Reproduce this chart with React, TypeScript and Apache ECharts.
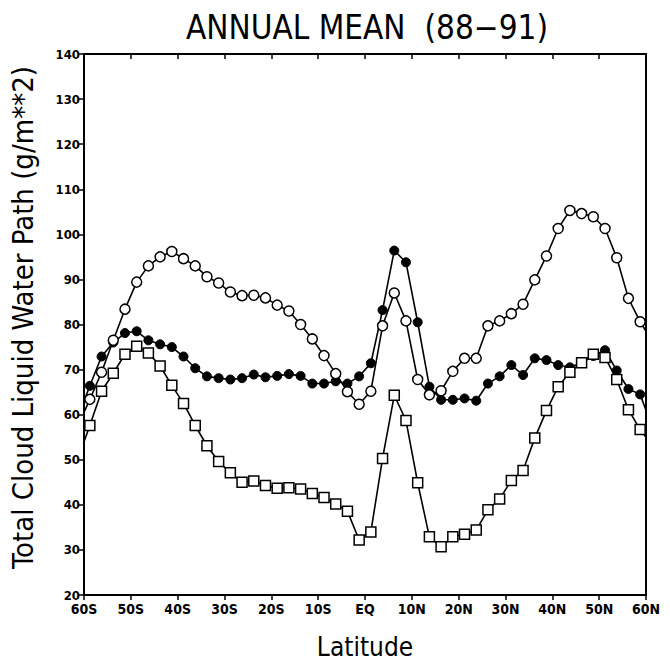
import React, { useEffect, useRef } from "react";
import * as echarts from "echarts";

const latitudes = [
  -58.75, -56.25, -53.75, -51.25, -48.75, -46.25, -43.75, -41.25, -38.75, -36.25,
  -33.75, -31.25, -28.75, -26.25, -23.75, -21.25, -18.75, -16.25, -13.75, -11.25,
  -8.75, -6.25, -3.75, -1.25, 1.25, 3.75, 6.25, 8.75, 11.25, 13.75,
  16.25, 18.75, 21.25, 23.75, 26.25, 28.75, 31.25, 33.75, 36.25, 38.75,
  41.25, 43.75, 46.25, 48.75, 51.25, 53.75, 56.25, 58.75,
];

const openCircles = [
  63.4, 69.4, 76.5, 83.4, 89.4, 93.0, 95.0, 96.2, 94.6, 93.0,
  90.6, 89.2, 87.2, 86.4, 86.5, 85.9, 84.3, 83.0, 80.0, 76.8,
  73.1, 69.1, 65.1, 62.3, 65.2, 79.7, 87.0, 80.8, 67.8, 64.4,
  65.3, 69.6, 72.5, 72.5, 79.7, 80.8, 82.4, 84.5, 89.9, 95.2,
  101.3, 105.3, 104.6, 103.9, 101.3, 94.8, 85.8, 80.6,
];

const filledCircles = [
  66.4, 72.9, 76.0, 78.1, 78.5, 76.5, 75.6, 75.0, 72.9, 70.3,
  68.5, 68.1, 67.8, 68.1, 68.9, 68.3, 68.6, 69.0, 68.6, 66.9,
  66.9, 67.4, 66.9, 68.5, 71.4, 83.2, 96.4, 93.8, 80.5, 66.2,
  63.3, 63.3, 63.6, 63.1, 66.9, 68.5, 71.0, 68.8, 72.5, 72.1,
  71.0, 70.5, 71.5, 73.0, 74.3, 69.8, 65.7, 64.5,
];

const openSquares = [
  57.6, 65.2, 69.2, 73.4, 75.2, 73.7, 70.8, 66.5, 62.5, 57.6,
  53.1, 49.6, 47.1, 45.0, 45.3, 44.3, 43.7, 43.8, 43.5, 42.5,
  41.6, 40.2, 38.6, 32.2, 34.0, 50.3, 64.3, 58.7, 44.9, 32.9,
  30.7, 32.9, 33.5, 34.4, 38.9, 41.3, 45.4, 47.6, 54.8, 60.9,
  66.2, 69.4, 71.5, 73.4, 72.7, 67.8, 61.1, 56.7,
];

// where each line meets the left (60S) and right (60N) frame
const openCirclesEdges = [60.5, 78.5];
const filledCirclesEdges = [63.0, 61.0];
const openSquaresEdges = [54.0, 55.0];

const xTickLabels = ["60S", "50S", "40S", "30S", "20S", "10S", "EQ", "10N", "20N", "30N", "40N", "50N", "60N"];

const TITLE = "ANNUAL MEAN  (88\u221291)";
const Y_NAME = "Total Cloud Liquid Water Path (g/m**2)";
const X_NAME = "Latitude";

function buildData(vals: number[], edges: number[]) {
  const d: any[] = [{ value: [-60, edges[0]], symbol: "none" }];
  latitudes.forEach((lat, i) => d.push([lat, vals[i]]));
  d.push({ value: [60, edges[1]], symbol: "none" });
  return d;
}

export default function App() {
  const ref = useRef<HTMLDivElement>(null);
  useEffect(() => {
    if (!ref.current) return;
    const chart = echarts.init(ref.current, null, { renderer: "svg" });
    const font = "'Liberation Sans Narrow', 'DejaVu Sans Condensed', 'Liberation Sans', sans-serif";
    const tickFont = "'DejaVu Sans Condensed', 'Liberation Sans Narrow', sans-serif";
    const lineStyle = { color: "#000", width: 1.6 };
    chart.setOption({
      animation: false,
      backgroundColor: "#fff",
      title: {
        text: TITLE,
        left: 362,
        top: 6,
        textAlign: "center",
        textStyle: { fontFamily: font, fontSize: 33, fontWeight: "normal", color: "#000" },
      },
      grid: { left: 84, right: 24, top: 54, bottom: 59, containLabel: false },
      xAxis: [
        {
          type: "value",
          min: -60,
          max: 60,
          interval: 10,
          position: "bottom",
          name: X_NAME,
          nameLocation: "middle",
          nameGap: 39,
          nameTextStyle: { fontFamily: font, fontSize: 26, color: "#000" },
          axisLine: { show: true, onZero: false, lineStyle: { color: "#000", width: 2 } },
          axisTick: { show: true, inside: false, length: 5, lineStyle: { color: "#000", width: 1.5 } },
          axisLabel: {
            fontFamily: tickFont,
            fontSize: 14,
            fontWeight: "bold",
            color: "#000",
            margin: 7,
            formatter: (v: number) => xTickLabels[Math.round((v + 60) / 10)] ?? "",
          },
          splitLine: { show: false },
        },
        {
          type: "value",
          min: -60,
          max: 60,
          interval: 10,
          position: "top",
          axisLine: { show: true, onZero: false, lineStyle: { color: "#000", width: 2 } },
          axisTick: { show: true, inside: true, length: 5, lineStyle: { color: "#000", width: 1.5 } },
          axisLabel: { show: false },
          splitLine: { show: false },
        },
      ],
      yAxis: [
        {
          type: "value",
          min: 20,
          max: 140,
          interval: 10,
          position: "left",
          name: Y_NAME,
          nameLocation: "middle",
          nameGap: 47,
          nameTextStyle: { fontFamily: font, fontSize: 29, color: "#000", padding: [0, 0, 0, 14] },
          axisLine: { show: true, onZero: false, lineStyle: { color: "#000", width: 2 } },
          axisTick: { show: true, inside: false, length: 5, lineStyle: { color: "#000", width: 1.5 } },
          axisLabel: { fontFamily: tickFont, fontSize: 13, fontWeight: "bold", color: "#000", margin: 4 },
          splitLine: { show: false },
        },
        {
          type: "value",
          min: 20,
          max: 140,
          interval: 10,
          position: "right",
          axisLine: { show: true, onZero: false, lineStyle: { color: "#000", width: 2 } },
          axisTick: { show: false },
          axisLabel: { show: false },
          splitLine: { show: false },
        },
      ],
      series: [
        {
          type: "line",
          name: "open circles",
          data: buildData(openCircles, openCirclesEdges),
          symbol: "circle",
          symbolSize: 10,
          lineStyle,
          itemStyle: { color: "#fff", borderColor: "#000", borderWidth: 1.5 },
          z: 3,
        },
        {
          type: "line",
          name: "filled circles",
          data: buildData(filledCircles, filledCirclesEdges),
          symbol: "circle",
          symbolSize: 9,
          lineStyle,
          itemStyle: { color: "#000", borderColor: "#000", borderWidth: 1 },
          z: 2,
        },
        {
          type: "line",
          name: "open squares",
          data: buildData(openSquares, openSquaresEdges),
          symbol: "rect",
          symbolSize: 10,
          lineStyle,
          itemStyle: { color: "#fff", borderColor: "#000", borderWidth: 1.5 },
          z: 4,
        },
      ],
    });
    return () => chart.dispose();
  }, []);
  return <div ref={ref} style={{ width: 670, height: 665, margin: -8 }} />;
}
